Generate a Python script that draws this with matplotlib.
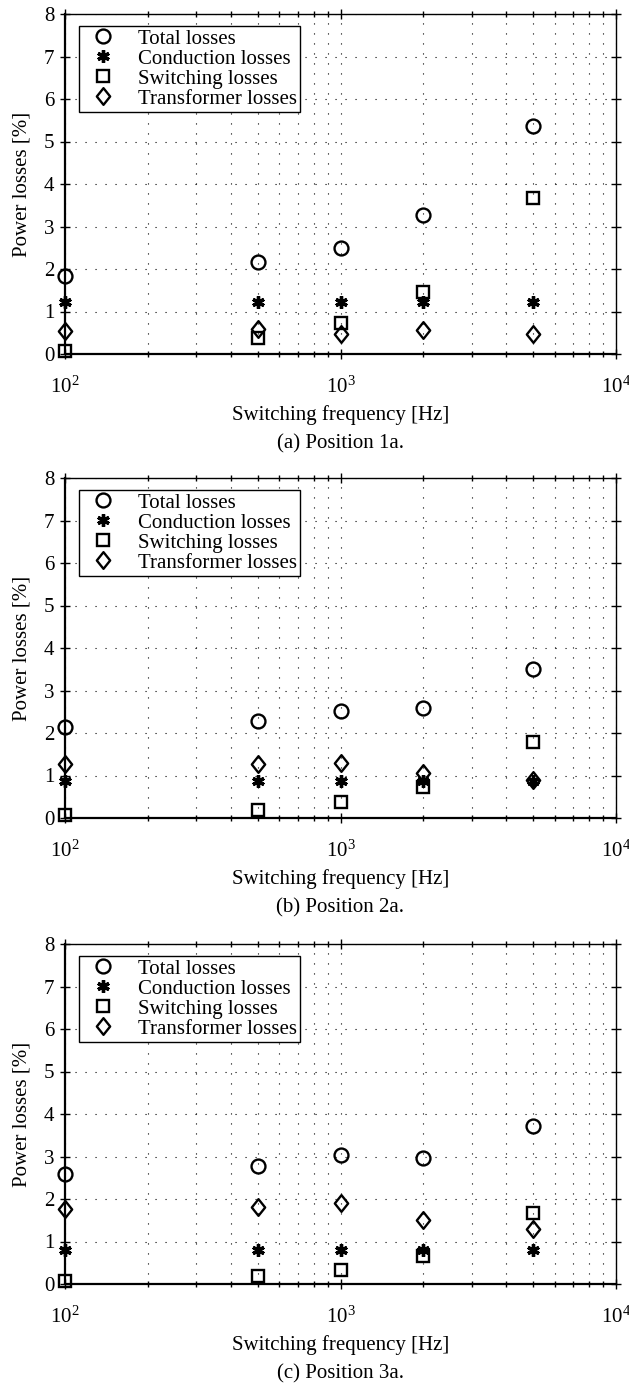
import matplotlib
matplotlib.use('Agg')
import matplotlib.pyplot as plt
from matplotlib.path import Path
import numpy as np

plt.rcParams['font.family'] = ['Liberation Serif', 'DejaVu Serif']
plt.rcParams['mathtext.fontset'] = 'custom'
plt.rcParams['mathtext.rm'] = 'Liberation Serif'
plt.rcParams['mathtext.it'] = 'Liberation Serif:italic'

freq = [100, 500, 1000, 2000, 5000]

# position 1a
total_1a = [1.84, 2.16, 2.49, 3.28, 5.37]
cond_1a = [1.23, 1.23, 1.23, 1.23, 1.23]
switch_1a = [0.08, 0.37, 0.74, 1.46, 3.67]
trafo_1a = [0.53, 0.59, 0.48, 0.56, 0.47]

# position 2a
total_2a = [2.14, 2.29, 2.51, 2.60, 3.51]
cond_2a = [0.87, 0.87, 0.87, 0.87, 0.87]
switch_2a = [0.06, 0.20, 0.37, 0.72, 1.79]
trafo_2a = [1.26, 1.27, 1.30, 1.05, 0.89]

# position 3a
total_3a = [2.60, 2.78, 3.03, 2.96, 3.71]
cond_3a = [0.81, 0.81, 0.81, 0.81, 0.81]
switch_3a = [0.06, 0.18, 0.34, 0.66, 1.66]
trafo_3a = [1.77, 1.82, 1.91, 1.51, 1.29]

captions = ['(a) Position 1a.', '(b) Position 2a.', '(c) Position 3a.']
labels = ['Total losses', 'Conduction losses', 'Switching losses', 'Transformer losses']
panels = [
    (total_1a, cond_1a, switch_1a, trafo_1a),
    (total_2a, cond_2a, switch_2a, trafo_2a),
    (total_3a, cond_3a, switch_3a, trafo_3a),
]

# wide matlab-like diamond
diamond = Path([(0, 1), (0.8, 0), (0, -1), (-0.8, 0), (0, 1)],
               [Path.MOVETO, Path.LINETO, Path.LINETO, Path.LINETO, Path.CLOSEPOLY])

W, H = 629, 1387
fig = plt.figure(figsize=(W / 100., H / 100.), dpi=100)

ax_left = 65. / W
ax_w = (616. - 65.) / W
ax_h = 340. / H
bottoms = [354., 818., 1284.]
fs = 15
dots = (0, (1, 8))

for i, (tot, cond, sw, tr) in enumerate(panels):
    ax = fig.add_axes([ax_left, 1 - bottoms[i] / H, ax_w, ax_h])
    ax.set_xscale('log')
    ax.set_xlim(100, 10000)
    ax.set_ylim(0, 8)
    ax.set_yticks(np.arange(0, 9, 1))

    ax.plot(freq, tot, linestyle='none', marker='o', ms=10, mfc='none',
            mec='k', mew=1.7, label=labels[0], clip_on=False, zorder=3)
    ax.plot(freq, cond, linestyle='none', marker=(6, 2, 0), ms=9, mfc='k',
            mec='k', mew=2.4, label=labels[1], clip_on=False, zorder=3)
    ax.plot(freq, sw, linestyle='none', marker='s', ms=8, mfc='none',
            mec='k', mew=1.7, label=labels[2], clip_on=False, zorder=3)
    ax.plot(freq, tr, linestyle='none', marker=diamond, ms=12, mfc='none',
            mec='k', mew=1.7, label=labels[3], clip_on=False, zorder=3)

    ax.grid(True, which='major', linestyle=dots, color='k', lw=0.8)
    ax.grid(True, which='minor', axis='x', linestyle=dots, color='k', lw=0.8)

    ax.tick_params(which='both', direction='inout', top=True, right=True,
                   labelsize=fs)
    ax.tick_params(which='major', length=7, width=1)
    ax.tick_params(which='minor', length=4, width=1)
    ax.tick_params(axis='x', pad=13)
    ax.tick_params(axis='y', pad=4)
    for s in ax.spines.values():
        s.set_linewidth(1.0)
    ax.spines['left'].set_linewidth(1.6)
    ax.spines['bottom'].set_linewidth(1.6)

    ax.set_ylabel('Power losses [%]', fontsize=fs, labelpad=9)
    ax.set_xlabel('Switching frequency [Hz]', fontsize=fs, labelpad=5)

    leg = ax.legend(loc='upper left', bbox_to_anchor=(0.025, 0.965),
                    fontsize=fs, frameon=True, fancybox=False,
                    handletextpad=0.7, labelspacing=0.02, borderpad=0.15,
                    borderaxespad=0.0, handlelength=2.0)
    leg.get_frame().set_edgecolor('k')
    leg.get_frame().set_linewidth(1.0)
    leg.get_frame().set_alpha(1.0)

    ax.annotate(captions[i], xy=(0.5, 0), xycoords='axes fraction',
                xytext=(0, -65), textcoords='offset points',
                ha='center', va='center', fontsize=fs)

fig.savefig('out.png', dpi=100)
plt.close()
